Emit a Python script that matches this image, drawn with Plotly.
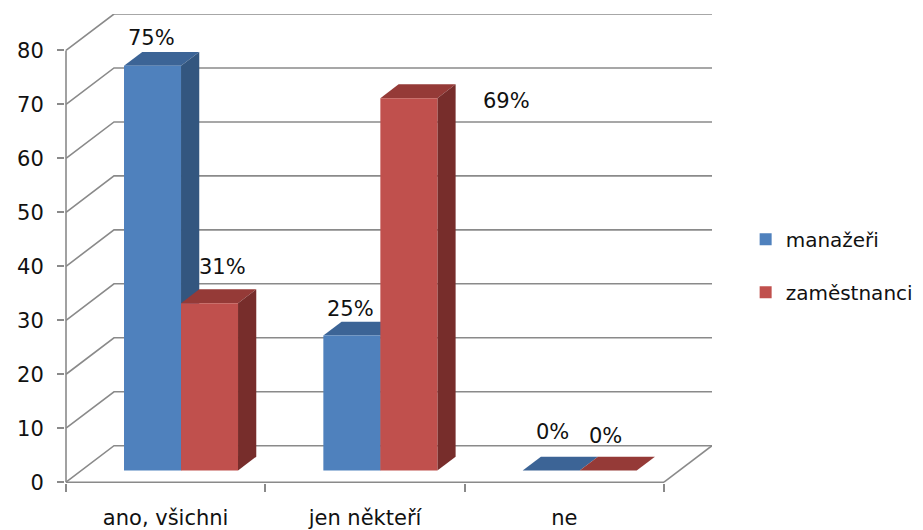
import plotly.graph_objects as go

# --- data -------------------------------------------------------------
categories = ["ano, všichni", "jen někteří", "ne"]
series_names = ["manažeři", "zaměstnanci"]
manazeri = [75, 25, 0]
zamestnanci = [31, 69, 0]
y_ticks = [0, 10, 20, 30, 40, 50, 60, 70, 80]

# --- styling ----------------------------------------------------------
FONT = "DejaVu Sans"
FS = 21
GRID = "#8a8a8a"
FRONT = ["#4F81BD", "#C0504D"]
TOP = ["#3C6496", "#953A37"]
SIDE = ["#33567F", "#772D2B"]

# pseudo-3D projection: the back wall sits DX category units right and
# DY value units up from the front plane
DX = 0.2408
DY = 6.76
F1, F2 = 0.32, 0.70           # depth of bar front / back faces
BAR_W = 0.286                 # width of one bar (category units)
Y_MAX = y_ticks[-1]

fig = go.Figure()

# walls, floor and gridlines
gx, gy = [], []
for v in y_ticks:
    gx += [-0.5, -0.5 + DX, 2.5 + DX, None]
    gy += [v, v + DY, v + DY, None]
gx += [2.5, 2.5 + DX, None, -0.5, -0.5, None, -0.5, 2.5]
gy += [0, DY, None, 0, Y_MAX, None, 0, 0]
fig.add_trace(go.Scatter(x=gx, y=gy, mode="lines",
                         line=dict(color=GRID, width=1.6),
                         hoverinfo="skip", showlegend=False))


def poly(xs, ys, color):
    fig.add_trace(go.Scatter(x=xs + [xs[0]], y=ys + [ys[0]], mode="lines",
                             fill="toself", fillcolor=color,
                             line=dict(width=0, color=color),
                             hoverinfo="skip", showlegend=False))


series = [manazeri, zamestnanci]
base = F1 * DY
ddx = (F2 - F1) * DX
ddy = (F2 - F1) * DY

# value label nudges in pixels (dx, dy) relative to the bar's top-back edge
label_nudge = {(0, 0): (-1, 14), (1, 0): (13, 22),
               (0, 1): (-1, 13), (1, 1): (98, -17),
               (0, 2): (1, 25), (1, 2): (-3, 21)}

for ci in range(len(categories)):
    for si, vals in enumerate(series):
        v = vals[ci]
        xl = ci + (si - 1) * BAR_W + F1 * DX
        xr = xl + BAR_W
        top = base + v
        # top face
        poly([xl, xr, xr + ddx, xl + ddx], [top, top, top + ddy, top + ddy], TOP[si])
        if v > 0:
            # side face
            poly([xr, xr + ddx, xr + ddx, xr], [base, base + ddy, top + ddy, top], SIDE[si])
            # front face
            poly([xl, xr, xr, xl], [base, base, top, top], FRONT[si])
        nx, ny = label_nudge[(si, ci)]
        fig.add_annotation(x=(xl + xr) / 2, y=top + ddy, text=f"{v}%",
                           showarrow=False, xanchor="center", yanchor="middle",
                           xshift=nx, yshift=ny,
                           font=dict(family=FONT, size=FS, color="#111111"))

# legend entries
for si, name in enumerate(series_names):
    fig.add_trace(go.Scatter(x=[None], y=[None], mode="markers", name=name,
                             marker=dict(symbol="square", size=15, color=FRONT[si]),
                             legendgroup=name))

fig.update_layout(
    width=923, height=530,
    margin=dict(l=65, r=211, t=14, b=47, autoexpand=False),
    paper_bgcolor="white", plot_bgcolor="white",
    font=dict(family=FONT, size=FS, color="#111111"),
    legend=dict(x=1.052, xanchor="left", y=0.463, yanchor="middle",
                tracegroupgap=24, font=dict(family=FONT, size=20),
                itemsizing="constant"),
)
fig.update_xaxes(range=[-0.505, 2.5 + DX], tickmode="array",
                 tickvals=list(range(len(categories))), ticktext=categories,
                 ticks="", showgrid=False, zeroline=False, showline=False,
                 automargin=False, ticklabelstandoff=20,
                 minor=dict(tickmode="array", tickvals=[-0.5, 0.5, 1.5, 2.5],
                            ticks="outside", ticklen=8, tickwidth=1.6,
                            tickcolor=GRID, showgrid=False))
fig.update_yaxes(range=[-0.15, Y_MAX + DY], tickmode="array", tickvals=y_ticks,
                 ticks="outside", ticklen=7, tickwidth=1.6, tickcolor=GRID,
                 showgrid=False, zeroline=False, showline=False,
                 automargin=False, ticklabelstandoff=9)

fig.write_html("out.html")
